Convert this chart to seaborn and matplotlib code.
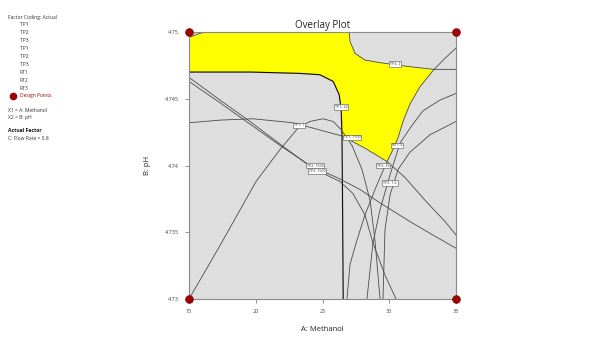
import numpy as np
import pandas as pd
import matplotlib
matplotlib.use("Agg")
import matplotlib.pyplot as plt
import seaborn as sns

# ---------------- data ----------------
x_ticks = [15, 20, 25, 30, 35]
y_ticks = [4.73, 4.735, 4.74, 4.745, 4.75]
y_tick_labels = ["4.73", "4.735", "4.74", "4.745", "4.75"]

# contour: TP1 = 24 (horizontal boundary, then vertical drop)
ca_x = [15, 19.6, 23.3, 24.8, 25.8, 26.25, 26.4, 26.46, 26.5, 26.55]
ca_y = [4.7470, 4.7470, 4.7469, 4.7468, 4.7463, 4.7453, 4.7442, 4.7423, 4.7374, 4.7300]
# contour: TP3 = 2 (upper right)
ctop_x = [26.99, 27.06, 27.43, 28.18, 29.31, 31.55, 33.35, 35.0]
ctop_y = [4.7500, 4.7493, 4.7484, 4.7479, 4.7477, 4.7474, 4.7472, 4.7472]
# small contour at the top-left corner
ctl_x = [15, 15.82, 16.27]
ctl_y = [4.7496, 4.7499, 4.7500]
# contour: RE1 = 4 (right boundary of window)
cright_x = [26.83, 27.06, 27.58, 28.18, 28.93, 29.83, 30.28, 30.66, 31.03, 31.55, 32.30, 33.35, 34.25, 35.0]
cright_y = [4.7300, 4.7326, 4.7344, 4.7363, 4.7382, 4.7403, 4.7412, 4.7421, 4.7433, 4.7446, 4.7459, 4.7472, 4.7481, 4.7488]
# contour: TP1 = 1 / TP1 = 1500 (lower boundary of window)
cmid_x = [15, 17.32, 19.79, 22.79, 24.29, 26.5, 28.18, 29.83, 31.18, 32.68, 34.18, 35.0]
cmid_y = [4.7432, 4.7434, 4.7435, 4.7432, 4.7428, 4.7422, 4.7413, 4.7403, 4.7391, 4.7374, 4.7358, 4.7348]
# curve from bottom-left corner with a hump
chump_x = [15, 17.32, 20.02, 21.82, 23.16, 24.06, 25.04, 25.79, 26.39, 27.21, 27.96, 28.56, 28.93, 29.31]
chump_y = [4.7300, 4.7340, 4.7388, 4.7412, 4.7428, 4.7433, 4.7435, 4.7433, 4.7427, 4.7415, 4.7397, 4.7374, 4.7344, 4.7300]
# TP2 = 1500 diagonal
cd1_x = [15, 17.32, 19.57, 21.82, 23.99, 26.09, 27.81, 29.31, 31.55, 33.43, 35.0]
cd1_y = [4.7466, 4.7449, 4.7433, 4.7416, 4.7400, 4.7391, 4.7382, 4.7372, 4.7358, 4.7347, 4.7338]
# TP3 = 1500 diagonal
cd2_x = [15, 17.32, 19.57, 21.82, 24.66, 26.31, 27.28, 28.18, 28.78, 29.68, 30.51]
cd2_y = [4.7463, 4.7447, 4.7431, 4.7415, 4.7396, 4.7388, 4.7379, 4.7363, 4.7342, 4.7318, 4.7300]
# fan curves on the right
f1_x = [28.33, 28.78, 29.31, 30.06, 30.81, 31.70, 32.53, 33.80, 35.0]
f1_y = [4.7300, 4.7342, 4.7367, 4.7393, 4.7417, 4.7430, 4.7441, 4.7449, 4.7454]
f2_x = [35.0, 33.05, 31.55, 30.66, 30.06, 29.68, 29.53]
f2_y = [4.7433, 4.7423, 4.7410, 4.7397, 4.7378, 4.7352, 4.7300]

# contour labels
lab_text = ["TP3: 2", "TP1: 24", "TP1: 1", "TP1: 1500", "RE1: 4", "TP2: 1500", "TP3: 1500", "TP2: 28", "TP3: 1.2"]
lab_x = [30.43, 26.39, 23.24, 27.21, 30.58, 24.44, 24.59, 29.53, 30.06]
lab_y = [4.7476, 4.7444, 4.7430, 4.7421, 4.7415, 4.7400, 4.7396, 4.7400, 4.7387]

# design points
dp_x = [15, 15, 35, 35]
dp_y = [4.73, 4.75, 4.73, 4.75]

legend_items = ["TP1", "TP2", "TP3", "TP1", "TP2", "TP3", "RT1", "RT2", "RT3"]

# ---------------- figure ----------------
sns.set_style("white")
plt.rcParams["font.family"] = ["Open Sans", "DejaVu Sans"]

W, H = 592, 342
fig = plt.figure(figsize=(W / 100, H / 100), dpi=100)
ax = fig.add_axes([189 / W, 43 / H, 267 / W, 267 / H])
ax.set_facecolor("#dedede")

# yellow feasible window
poly_x = ([15, 15] + ctl_x + ctop_x[:7] + cright_x[11:4:-1] + cmid_x[6:4:-1] + ca_x[7::-1])
poly_y = ([ca_y[0], ctl_y[0]] + ctl_y + ctop_y[:7] + cright_y[11:4:-1] + cmid_y[6:4:-1] + ca_y[7::-1])
ax.fill(poly_x, poly_y, color="#ffff00", zorder=1, lw=0)

curves = [
    (ca_x, ca_y, "#111111", 0.85),
    (ctop_x, ctop_y, "#4a4a4a", 0.6),
    (ctl_x, ctl_y, "#4a4a4a", 0.6),
    (cright_x, cright_y, "#4a4a4a", 0.6),
    (cmid_x, cmid_y, "#4a4a4a", 0.6),
    (chump_x, chump_y, "#4a4a4a", 0.6),
    (cd1_x, cd1_y, "#4a4a4a", 0.6),
    (cd2_x, cd2_y, "#4a4a4a", 0.6),
    (f1_x, f1_y, "#4a4a4a", 0.6),
    (f2_x, f2_y, "#4a4a4a", 0.6),
]
for cx, cy, col, lw in curves:
    df = pd.DataFrame({"x": cx, "y": cy})
    sns.lineplot(data=df, x="x", y="y", sort=False, estimator=None, color=col,
                 linewidth=lw, ax=ax, zorder=2)

for t, lx, ly in zip(lab_text, lab_x, lab_y):
    ax.text(lx, ly, t, fontsize=2.6, ha="center", va="center", color="#333333", zorder=4,
            bbox=dict(boxstyle="square,pad=0.25", fc="white", ec="#555555", lw=0.4))

sns.scatterplot(x=dp_x, y=dp_y, ax=ax, color="#a00000", s=32, edgecolor="#700000",
                linewidth=0.4, zorder=6, clip_on=False, legend=False)

ax.set_xlim(15, 35)
ax.set_ylim(4.73, 4.75)
ax.set_xticks(x_ticks)
ax.set_xticklabels([str(v) for v in x_ticks])
ax.set_yticks(y_ticks)
ax.set_yticklabels(y_tick_labels)
ax.tick_params(axis="both", direction="out", length=3, width=0.6, color="#808080",
               labelsize=4, labelcolor="#444444", pad=4, bottom=True, left=True)
for s in ax.spines.values():
    s.set_color("#8a8a8a")
    s.set_linewidth(0.8)

ax.set_xlabel("A: Methanol", fontsize=5.5, color="#222222", labelpad=9)
ax.set_ylabel("B: pH", fontsize=5.5, color="#222222", labelpad=10)
ax.set_title("Overlay Plot", fontsize=7, color="#222222", pad=3)

# left information panel
def ftxt(px, py, s, **kw):
    fig.text(px / W, 1 - py / H, s, va="center", ha="left", **kw)

ftxt(8, 17, "Factor Coding: Actual", fontsize=3.6, color="#333333")
for i, item in enumerate(legend_items):
    ftxt(20, 25 + i * 7.9, item, fontsize=3.6, color="#333333")
fig.add_artist(plt.Line2D([13 / W], [1 - 96 / H], marker="o", markersize=4.5,
                          color="#a00000", transform=fig.transFigure))
ftxt(20, 96, "Design Points", fontsize=3.6, color="#a00000")
ftxt(8, 111, "X1 = A: Methanol", fontsize=3.6, color="#333333")
ftxt(8, 118, "X2 = B: pH", fontsize=3.6, color="#333333")
ftxt(8, 131, "Actual Factor", fontsize=3.6, color="#111111", fontweight="bold")
ftxt(8, 139, "C: Flow Rate = 0.8", fontsize=3.6, color="#333333")

fig.savefig("out.png", dpi=100)
